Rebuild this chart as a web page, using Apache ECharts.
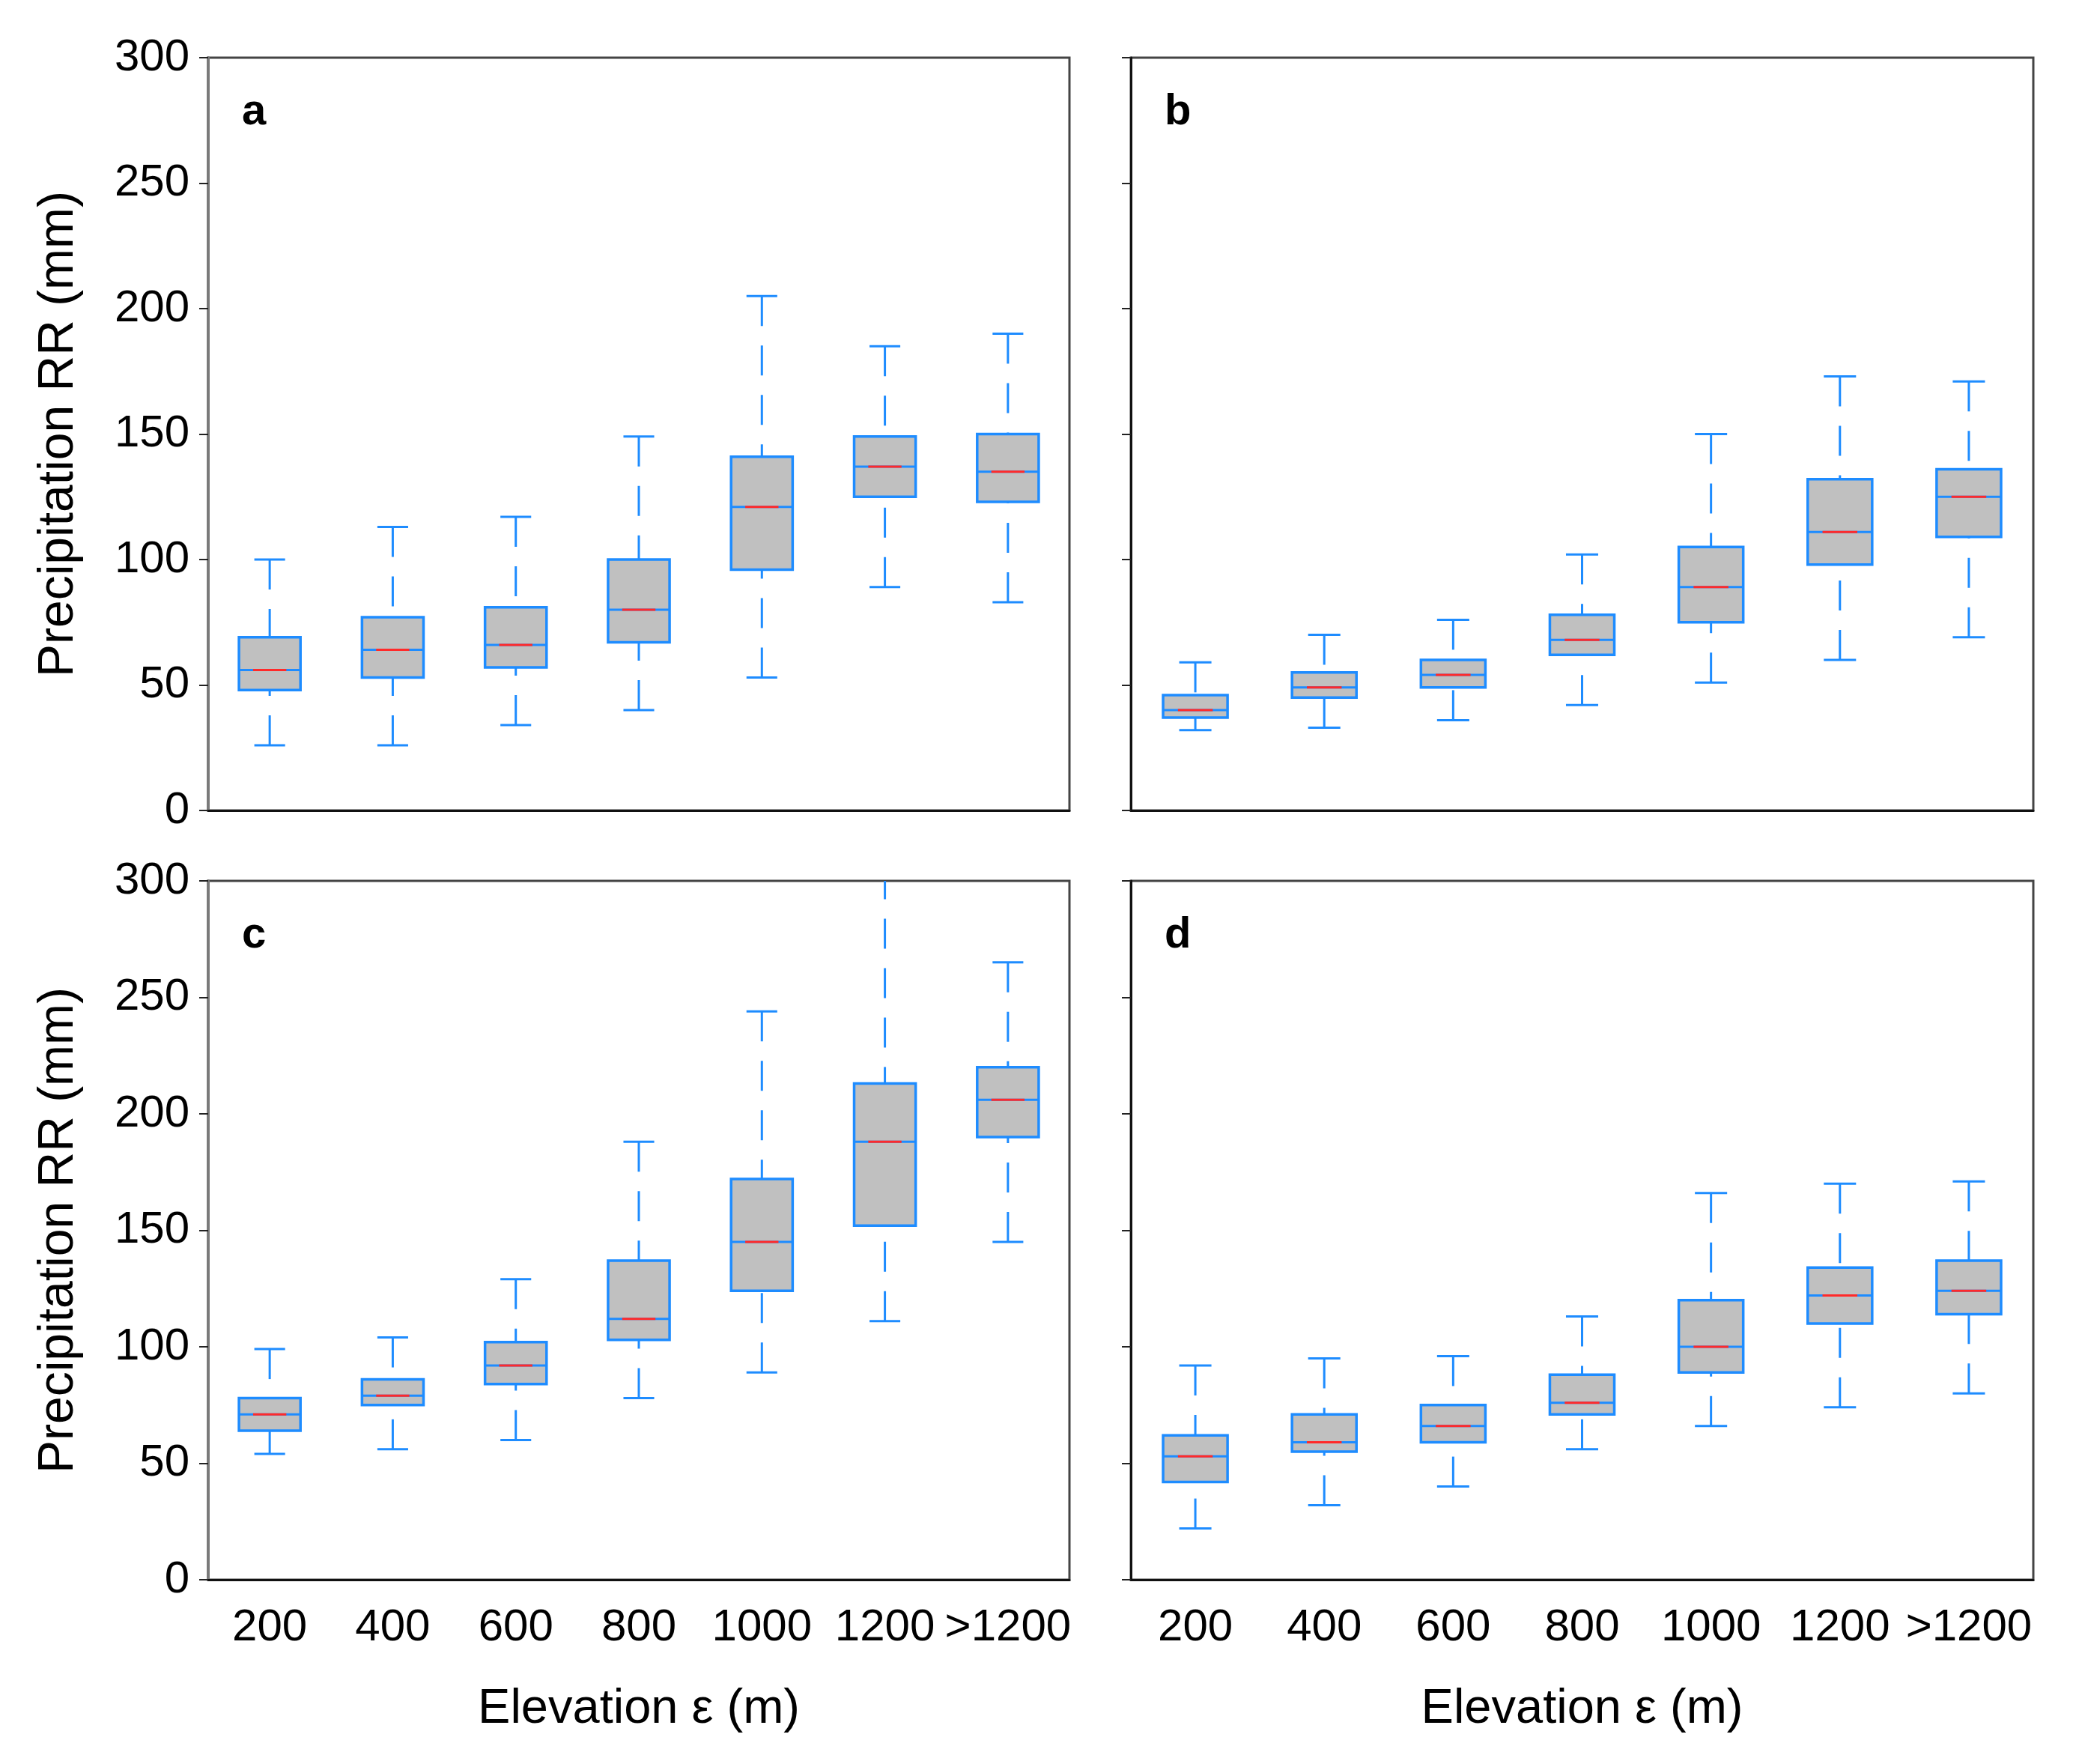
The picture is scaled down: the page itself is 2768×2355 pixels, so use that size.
<!DOCTYPE html>
<html>
<head>
<meta charset="utf-8">
<title>Precipitation vs elevation</title>
<script src="https://cdn.jsdelivr.net/npm/echarts@6/dist/echarts.min.js"></script>
<style>
  html, body { margin: 0; padding: 0; background: #fff; }
  #chart { width: 2768px; height: 2355px; }
</style>
</head>
<body>
<div id="chart"></div>
<script>
// 类别 (海拔)
var categories = ['200', '400', '600', '800', '1000', '1200', '>1200'];
var yTicks = [0, 50, 100, 150, 200, 250, 300];

// panel a
var aLow  = [26, 26, 34, 40, 53, 89, 83];
var aQ1   = [48, 53, 57, 67, 96, 125, 123];
var aMed  = [56, 64, 66, 80, 121, 137, 135];
var aQ3   = [69, 77, 81, 100, 141, 149, 150];
var aHigh = [100, 113, 117, 149, 205, 185, 190];

// panel b
var bLow  = [32, 33, 36, 42, 51, 60, 69];
var bQ1   = [37, 45, 49, 62, 75, 98, 109];
var bMed  = [40, 49, 54, 68, 89, 111, 125];
var bQ3   = [46, 55, 60, 78, 105, 132, 136];
var bHigh = [59, 70, 76, 102, 150, 173, 171];

// panel c (1200 的上须超出 300, 被裁剪)
var cLow  = [54, 56, 60, 78, 89, 111, 145];
var cQ1   = [64, 75, 84, 103, 124, 152, 190];
var cMed  = [71, 79, 92, 112, 145, 188, 206];
var cQ3   = [78, 86, 102, 137, 172, 213, 220];
var cHigh = [99, 104, 129, 188, 244, 305, 265];

// panel d
var dLow  = [22, 32, 40, 56, 66, 74, 80];
var dQ1   = [42, 55, 59, 71, 89, 110, 114];
var dMed  = [53, 59, 66, 76, 100, 122, 124];
var dQ3   = [62, 71, 75, 88, 120, 134, 137];
var dHigh = [92, 95, 96, 113, 166, 170, 171];

var BLUE = '#1E8CFF';
var RED = '#FF2A2A';
var FONT = '"Liberation Sans", Arial, sans-serif';

var chart = echarts.init(document.getElementById('chart'));

// 数组 -> custom series 数据
function buildData(lo, q1, md, q3, hi) {
	var out = [];
	for (var i = 0; i < categories.length; i++) {
		out.push([i, lo[i], q1[i], md[i], q3[i], hi[i]]);
	}
	return out;
}

// 箱线图绘制 (虚线须)
function renderBox(params, api) {
	var idx = api.value(0);
	var lo = api.coord([idx, api.value(1)]);
	var q1 = api.coord([idx, api.value(2)]);
	var md = api.coord([idx, api.value(3)]);
	var q3 = api.coord([idx, api.value(4)]);
	var hi = api.coord([idx, api.value(5)]);
	var bw = api.size([1, 0])[0] * 0.5;
	var x = md[0];
	var cap = bw * 0.5;
	var dashStyle = { stroke: BLUE, lineWidth: 3, lineDash: [40, 26] };
	var solid = { stroke: BLUE, lineWidth: 3 };
	return {
		type: 'group',
		children: [
			// upper whisker
			{ type: 'line', shape: { x1: x, y1: hi[1], x2: x, y2: q3[1] }, style: dashStyle },
			// lower whisker
			{ type: 'line', shape: { x1: x, y1: lo[1], x2: x, y2: q1[1] }, style: dashStyle },
			// caps
			{ type: 'line', shape: { x1: x - cap / 2, y1: hi[1], x2: x + cap / 2, y2: hi[1] }, style: solid },
			{ type: 'line', shape: { x1: x - cap / 2, y1: lo[1], x2: x + cap / 2, y2: lo[1] }, style: solid },
			// box
			{
				type: 'rect',
				shape: { x: x - bw / 2, y: q3[1], width: bw, height: q1[1] - q3[1] },
				style: { fill: '#C0C0C0', stroke: BLUE, lineWidth: 3.5 }
			},
			// median
			{ type: 'line', shape: { x1: x - bw / 2, y1: md[1], x2: x + bw / 2, y2: md[1] }, style: solid },
			{ type: 'line', shape: { x1: x - bw * 0.27, y1: md[1], x2: x + bw * 0.27, y2: md[1] }, style: { stroke: RED, lineWidth: 3 } }
		]
	};
}

// 面板位置
var panels = [
	{ left: 278, top: 77, width: 1150, height: 1005, xLabel: false, yLabel: true },
	{ left: 1510, top: 77, width: 1205, height: 1005, xLabel: false, yLabel: false },
	{ left: 278, top: 1176, width: 1150, height: 933, xLabel: true, yLabel: true },
	{ left: 1510, top: 1176, width: 1205, height: 933, xLabel: true, yLabel: false }
];
var panelData = [
	buildData(aLow, aQ1, aMed, aQ3, aHigh),
	buildData(bLow, bQ1, bMed, bQ3, bHigh),
	buildData(cLow, cQ1, cMed, cQ3, cHigh),
	buildData(dLow, dQ1, dMed, dQ3, dHigh)
];

var grids = [], xAxes = [], yAxes = [], series = [];
panels.forEach(function (p, i) {
	grids.push({
		left: p.left, top: p.top, width: p.width, height: p.height,
		show: true, borderColor: '#444', borderWidth: 3, backgroundColor: 'transparent'
	});
	xAxes.push({
		type: 'category', gridIndex: i, data: categories,
		boundaryGap: true,
		axisLine: { lineStyle: { color: '#111', width: 3 } },
		axisTick: { alignWithLabel: true, interval: 0, length: 12, lineStyle: { color: '#222', width: 2 } },
		axisLabel: { show: p.xLabel, interval: 0, color: '#000', fontSize: 60, fontFamily: FONT, margin: 34 },
		splitLine: { show: false }
	});
	yAxes.push({
		type: 'value', gridIndex: i, min: yTicks[0], max: yTicks[yTicks.length - 1], interval: 50,
		axisLine: { show: true, lineStyle: { color: p.yLabel ? '#7A7A7A' : '#111', width: p.yLabel ? 4 : 3 } },
		axisTick: { show: true, length: 12, lineStyle: { color: '#222', width: 2 } },
		axisLabel: { show: p.yLabel, color: '#000', fontSize: 60, fontFamily: FONT, margin: 25 },
		splitLine: { show: false }
	});
	series.push({
		type: 'custom', xAxisIndex: i, yAxisIndex: i,
		renderItem: renderBox,
		clip: true,
		encode: { x: 0, y: [1, 2, 3, 4, 5] },
		data: panelData[i]
	});
});

// 文字 (面板字母 / 轴标题)
var letters = ['a', 'b', 'c', 'd'];
var texts = [];
panels.forEach(function (p, i) {
	texts.push({
		type: 'text', left: p.left + 45, top: p.top + 44,
		style: { text: letters[i], font: 'bold 58px ' + FONT, fill: '#000' }
	});
	if (p.yLabel) {
		texts.push({
			type: 'text', x: 79, y: p.top + p.height / 2, rotation: Math.PI / 2,
			style: { text: 'Precipitation RR (mm)', font: '66px ' + FONT, fill: '#000', textAlign: 'center', textVerticalAlign: 'middle' }
		});
	}
	if (p.xLabel) {
		texts.push({
			type: 'text', x: p.left + p.width / 2, y: 2282,
			style: { text: 'Elevation ε (m)', font: '65px ' + FONT, fill: '#000', textAlign: 'center', textVerticalAlign: 'middle' }
		});
	}
});

chart.setOption({
	animation: false,
	backgroundColor: '#fff',
	grid: grids,
	xAxis: xAxes,
	yAxis: yAxes,
	series: series,
	graphic: texts
});
</script>
</body>
</html>
